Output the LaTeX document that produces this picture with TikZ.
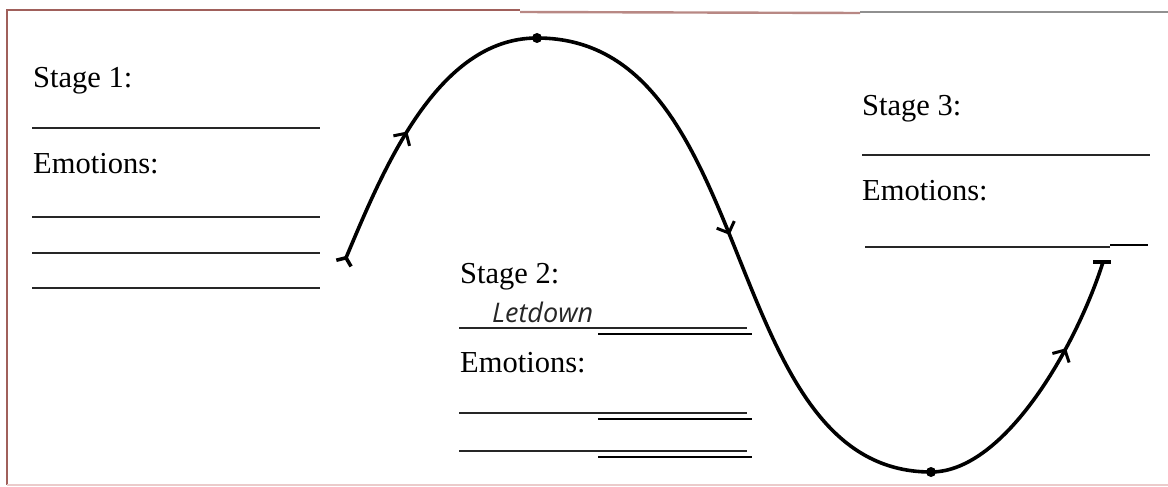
\documentclass[tikz,border=0pt]{standalone}
\usepackage{fontspec}
\setmainfont{Liberation Serif}
\newfontfamily\handfont{Open Sans}
\usetikzlibrary{arrows.meta,decorations.markings}
\definecolor{frameline}{HTML}{A0605B}
\definecolor{framepale}{HTML}{EBCBCB}
\definecolor{framegray}{HTML}{909090}
\definecolor{ink}{HTML}{262626}
\definecolor{shade}{HTML}{E0E0E0}

\begin{document}
\begin{tikzpicture}[x=1pt,y=-1pt,
  stagetext/.style={anchor=base west,inner sep=0pt,font=\fontsize{30.5}{36}\selectfont},
  blank/.style={ink,line width=2.4pt},
  blankshade/.style={shade,line width=2pt},
  curve/.style={black,line width=3.6pt},
  midarrow/.style={postaction={decorate},decoration={markings,
    mark=at position #1 with {\arrow{Straight Barb[length=9pt,width=19pt,line width=3pt]}}}}]
  \useasboundingbox (0,0) rectangle (1168,487);

  % Frame
  \draw[frameline,line width=2.4pt] (7,485) -- (7,10) -- (520,10);
  \draw[frameline!75,line width=2.4pt] (520,12) -- (860,13);
  \draw[framegray,line width=2.2pt] (860,12) -- (1168,12);
  \draw[framepale,line width=2.2pt] (7,485) -- (1168,485);

  % Stage 1
  \node[stagetext] (stage1) at (33,88) {Stage 1:};
  \draw[blank] (32,128) -- (320,128);
  \node[stagetext] (emo1) at (33,173) {Emotions:};
  \draw[blank] (32,217) -- (320,217);
  \draw[blank] (32,253) -- (320,253);
  \draw[blank] (32,288) -- (320,288);

  % Stage 2
  \node[stagetext] (stage2) at (460,283) {Stage 2:};
  \node[anchor=base west,inner sep=0pt,ink,font=\handfont\itshape\fontsize{27}{32}\selectfont] (letdown) at (492,322) {Letdown};
  \draw[blank] (459,328) -- (747,328);
  \draw[blankshade] (598,333.5) -- (752,333.5);
  \node[stagetext] (emo2) at (460,372) {Emotions:};
  \draw[blank] (459,413) -- (747,413);
  \draw[blankshade] (598,418.5) -- (752,418.5);
  \draw[blank] (459,451) -- (747,451);
  \draw[blankshade] (598,456.5) -- (752,456.5);

  % Stage 3
  \node[stagetext] (stage3) at (862,115) {Stage 3:};
  \draw[blank] (862,155) -- (1150,155);
  \node[stagetext] (emo3) at (862,200) {Emotions:};
  \draw[blank] (865,247) -- (1110,247);
  \draw[blankshade] (1110,245) -- (1148,245);

  % The curve
  \coordinate (start) at (343,265);
  \coordinate (peak) at (537,38);
  \coordinate (bottom) at (931,472);
  \coordinate (finish) at (1103,262);
  \draw[curve,{Straight Barb[reversed,length=6pt,width=16pt]}-,midarrow=0.47] (start) .. controls +(40,-95) and +(-100,0) .. (peak);
  \draw[curve,midarrow=0.47] (peak) .. controls +(225,0) and +(-215,0) .. (bottom);
  \draw[curve,midarrow=0.67] (bottom) .. controls +(75,0) and +(-25,80) .. (finish);
  \draw[curve] (finish) ++(-10,0) -- ++(18,0);
  \fill (peak) circle (5pt);
  \fill (bottom) circle (5pt);
\end{tikzpicture}
\end{document}
